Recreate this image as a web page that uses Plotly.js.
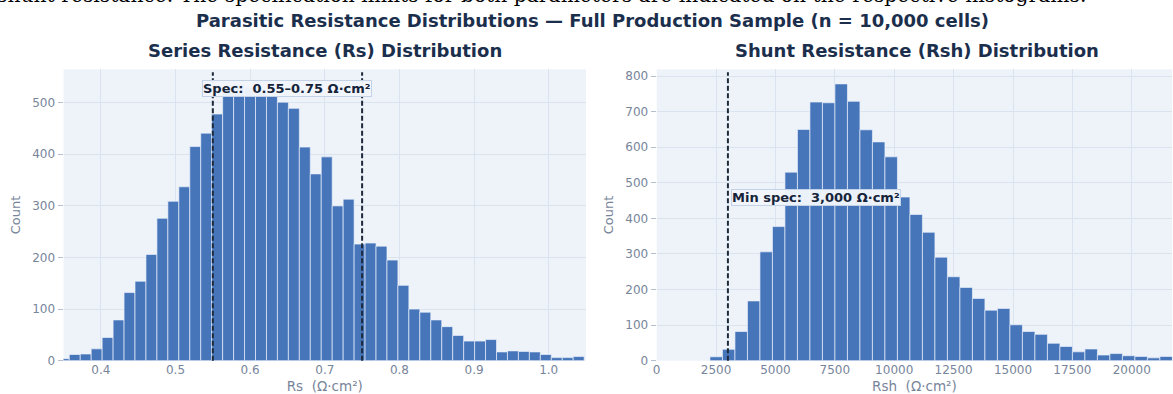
<!DOCTYPE html>
<html>
<head>
<meta charset="utf-8">
<script src="https://cdn.plot.ly/plotly-3.0.1.min.js"></script>
<style>
html, body { margin: 0; padding: 0; background: #ffffff; }
#chart { width: 1173px; height: 394px; }
</style>
</head>
<body>
<div id="chart"></div>
<script>
// ---- Data ----
const rsBinStart = 0.3430;      // left edge of first Rs bin (Ω·cm²)
const rsBinWidth = 0.014677;    // Rs bin width (Ω·cm²)
const rsCounts = [4, 12, 13, 23, 45, 79, 132, 154, 206, 276, 309, 337, 415, 441, 478,
                  524, 536, 530, 519, 512, 501, 489, 414, 362, 395, 300, 313, 226, 228,
                  222, 195, 146, 100, 94, 79, 66, 49, 38, 38, 41, 17, 19, 18, 17, 12, 6, 6, 8];

const rshBinStart = 2244;       // left edge of first Rsh bin (Ω·cm²)
const rshBinWidth = 526.1;      // Rsh bin width (Ω·cm²)
const rshCounts = [11, 32, 82, 168, 306, 377, 530, 650, 727, 725, 778, 729, 649, 615, 573,
                   460, 411, 361, 291, 236, 206, 175, 142, 147, 101, 82, 74, 49, 40, 25,
                   33, 16, 20, 14, 12, 8, 12];

const rsSpecLimits = [0.55, 0.75];
const rshMinSpec = 3000;

const rsXTicks = [0.4, 0.5, 0.6, 0.7, 0.8, 0.9, 1.0];
const rsYTicks = [0, 100, 200, 300, 400, 500];
const rshXTicks = [0, 2500, 5000, 7500, 10000, 12500, 15000, 17500, 20000];
const rshYTicks = [0, 100, 200, 300, 400, 500, 600, 700, 800];

const captionText = "shunt resistance. The specification limits for both parameters are indicated on the respective histograms.";
const suptitleText = "Parasitic Resistance Distributions — Full Production Sample (n = 10,000 cells)";
const rsTitle = "Series Resistance (Rs) Distribution";
const rshTitle = "Shunt Resistance (Rsh) Distribution";
const rsSpecLabel = "Spec:\u00a0 0.55–0.75 Ω·cm²";
const rshSpecLabel = "Min spec:\u00a0 3,000 Ω·cm²";

// ---- Styling ----
const FONT = "DejaVu Sans, Verdana, sans-serif";
const BAR = "#4675ba";
const BG = "#eef3fa";
const GRID = "#dbe3ee";
const TICK = "#77859a";
const NAVY = "#1b2f4d";

const barStyle = {
  type: "bar",
  marker: { color: BAR, line: { color: "rgba(235,242,252,0.75)", width: 0.9 } },
  hoverinfo: "skip"
};

const traces = [
  Object.assign({}, barStyle, {
    y: rsCounts, x0: rsBinStart + rsBinWidth / 2, dx: rsBinWidth, width: rsBinWidth,
    xaxis: "x", yaxis: "y"
  }),
  Object.assign({}, barStyle, {
    y: rshCounts, x0: rshBinStart + rshBinWidth / 2, dx: rshBinWidth, width: rshBinWidth,
    xaxis: "x2", yaxis: "y2"
  })
];

function axisBase(isX) {
  return {
    showgrid: true, gridcolor: GRID, gridwidth: 1,
    zeroline: false, showline: false,
    ticks: isX ? "" : "outside", ticklen: 5, tickcolor: "#b4bfcd", tickwidth: 1,
    tickfont: { family: FONT, size: 12, color: TICK },
    automargin: false, fixedrange: true
  };
}

const layout = {
  width: 1173, height: 394,
  margin: { l: 0, r: 0, t: 0, b: 0 },
  paper_bgcolor: "#ffffff",
  plot_bgcolor: BG,
  showlegend: false,
  bargap: 0,
  font: { family: FONT, color: TICK },
  xaxis: Object.assign(axisBase(true), {
    domain: [0.05418, 0.4996], range: [0.35, 1.05],
    tickvals: rsXTicks, tickformat: ".1f", anchor: "y",
    title: { text: "Rs\u00a0 (Ω·cm²)", font: { family: FONT, size: 13.5, color: TICK }, standoff: 6 }
  }),
  yaxis: Object.assign(axisBase(false), {
    domain: [0.0845, 0.8241], range: [0, 564.7],
    tickvals: rsYTicks, anchor: "x",
    title: { text: "Count", font: { family: FONT, size: 13, color: TICK }, standoff: 8 }
  }),
  xaxis2: Object.assign(axisBase(true), {
    domain: [0.5598, 0.9993], range: [0, 21700],
    tickvals: rshXTicks, tickformat: "d", anchor: "y2",
    title: { text: "Rsh\u00a0 (Ω·cm²)", font: { family: FONT, size: 13.5, color: TICK }, standoff: 6 }
  }),
  yaxis2: Object.assign(axisBase(false), {
    domain: [0.0845, 0.8241], range: [0, 819],
    tickvals: rshYTicks, anchor: "x2",
    title: { text: "Count", font: { family: FONT, size: 13, color: TICK }, standoff: 8 }
  }),
  shapes: [
    ...rsSpecLimits.map(v => ({
      type: "line", xref: "x", yref: "y domain", x0: v, x1: v, y0: 0, y1: 0.99,
      line: { color: "#1d2a3b", width: 2, dash: "5px,2.5px" }
    })),
    {
      type: "line", xref: "x2", yref: "y2 domain", x0: rshMinSpec, x1: rshMinSpec, y0: 0, y1: 0.99,
      line: { color: "#1d2a3b", width: 2, dash: "5px,2.5px" }
    }
  ],
  annotations: [
    {
      text: captionText, xref: "paper", yref: "paper", x: -0.004, y: 0.978,
      xanchor: "left", yanchor: "bottom", showarrow: false,
      font: { family: "DejaVu Serif, serif", size: 20.3, color: "#000000" }
    },
    {
      text: "<b>" + suptitleText + "</b>", xref: "paper", yref: "paper", x: 0.5055, y: 0.949,
      xanchor: "center", yanchor: "middle", showarrow: false,
      font: { family: FONT, size: 18, color: NAVY }
    },
    {
      text: "<b>" + rsTitle + "</b>", xref: "paper", yref: "paper", x: 0.2770, y: 0.8706,
      xanchor: "center", yanchor: "middle", showarrow: false,
      font: { family: FONT, size: 18, color: NAVY }
    },
    {
      text: "<b>" + rshTitle + "</b>", xref: "paper", yref: "paper", x: 0.7815, y: 0.8706,
      xanchor: "center", yanchor: "middle", showarrow: false,
      font: { family: FONT, size: 18, color: NAVY }
    },
    {
      text: "<b>" + rsSpecLabel + "</b>", xref: "x", yref: "y domain",
      x: (rsSpecLimits[0] + rsSpecLimits[1]) / 2, y: 0.934,
      xanchor: "center", yanchor: "middle", showarrow: false,
      font: { family: FONT, size: 13, color: "#16243a" },
      bgcolor: "rgba(241,246,252,0.96)", bordercolor: "#c3d2e6", borderwidth: 1, borderpad: 0
    },
    {
      text: "<b>" + rshSpecLabel + "</b>", xref: "x2", yref: "y2 domain",
      x: rshMinSpec, xshift: 3, y: 0.559,
      xanchor: "left", yanchor: "middle", showarrow: false,
      font: { family: FONT, size: 13, color: "#16243a" },
      bgcolor: "rgba(241,246,252,0.96)", bordercolor: "#c3d2e6", borderwidth: 1, borderpad: 0
    }
  ]
};

Plotly.newPlot("chart", traces, layout, { displayModeBar: false, staticPlot: true });
</script>
</body>
</html>
